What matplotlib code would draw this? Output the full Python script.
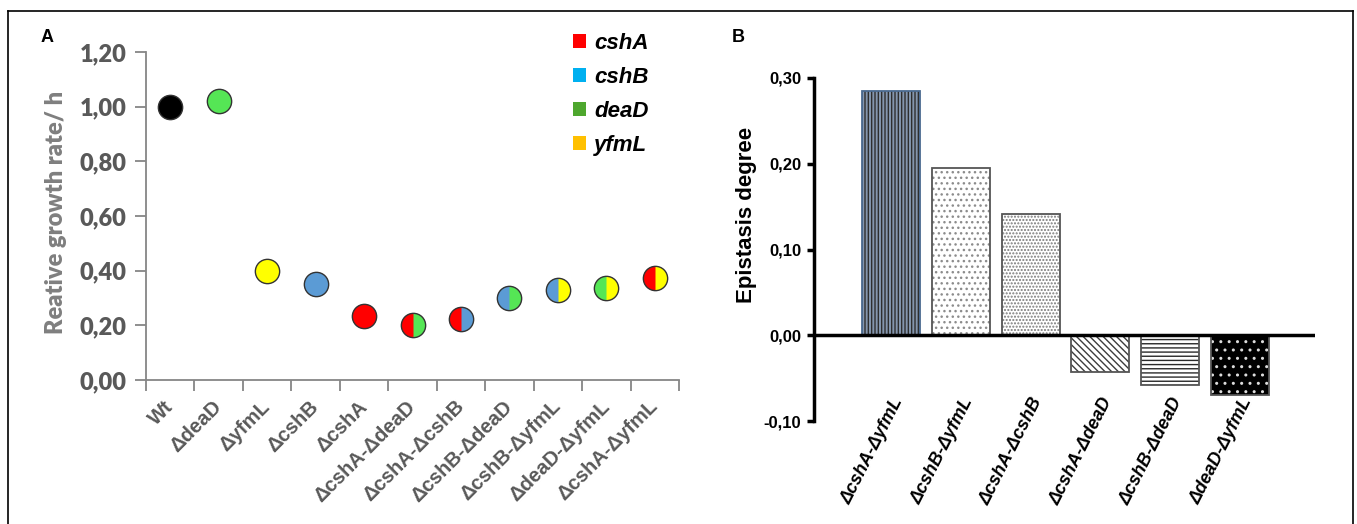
import matplotlib
matplotlib.use("Agg")
import matplotlib.pyplot as plt
import matplotlib.transforms as mtransforms
from matplotlib.patches import Patch
from matplotlib.lines import Line2D

# panel A data
strains = ['Wt', 'ΔdeaD', 'ΔyfmL', 'ΔcshB', 'ΔcshA', 'ΔcshA-ΔdeaD', 'ΔcshA-ΔcshB',
           'ΔcshB-ΔdeaD', 'ΔcshB-ΔyfmL', 'ΔdeaD-ΔyfmL', 'ΔcshA-ΔyfmL']
growth = [1.00, 1.02, 0.40, 0.35, 0.235, 0.20, 0.222, 0.30, 0.33, 0.335, 0.375]
left_col = ['black', 'green', 'yellow', 'blue', 'red', 'red', 'red', 'blue', 'blue', 'green', 'red']
right_col = ['black', 'green', 'yellow', 'blue', 'red', 'green', 'blue', 'green', 'yellow', 'yellow', 'yellow']
genes = ['cshA', 'cshB', 'deaD', 'yfmL']

# panel B data
pairs = ['ΔcshA-ΔyfmL', 'ΔcshB-ΔyfmL', 'ΔcshA-ΔcshB', 'ΔcshA-ΔdeaD', 'ΔcshB-ΔdeaD', 'ΔdeaD-ΔyfmL']
epistasis = [0.285, 0.195, 0.141, -0.043, -0.058, -0.070]

dot_colors = {'black': '#000000', 'green': '#55E655', 'yellow': '#FFFF00',
              'blue': '#5B9BD5', 'red': '#FF0000'}
legend_colors = ['#FF0000', '#00B0F0', '#4EA72E', '#FFC000']
gray = '#595959'

fig = plt.figure(figsize=(13.57, 5.24), dpi=100)

# outer frame
for xs, ys in [([8, 1353], [513, 513]), ([8, 8], [513, -5]), ([1353, 1353], [513, -5])]:
    fig.add_artist(Line2D([x / 1357 for x in xs], [y / 524 for y in ys],
                          color='black', lw=1.2, transform=fig.transFigure))

# ---- panel A ----
axA = fig.add_axes([146 / 1357, 1 - 380 / 524, (679 - 146) / 1357, (380 - 52) / 524])
x = list(range(len(strains)))
for i in x:
    # right colour full disc, left half on top, then the outline
    axA.plot(i, growth[i], 'o', ms=17.5, markerfacecolor=dot_colors[right_col[i]],
             markeredgewidth=0, clip_on=False, zorder=3)
    axA.plot(i, growth[i], 'o', ms=17.5, fillstyle='left',
             markerfacecolor=dot_colors[left_col[i]], markerfacecoloralt='none',
             markeredgewidth=0, clip_on=False, zorder=4)
    axA.plot(i, growth[i], 'o', ms=17.5, markerfacecolor='none',
             markeredgecolor='#333333', markeredgewidth=1.0, clip_on=False, zorder=5)
axA.set_xlim(-0.5, len(strains) - 0.5)
axA.set_ylim(0, 1.2)
axA.spines[['top', 'right']].set_visible(False)
for s in ['left', 'bottom']:
    axA.spines[s].set_color('#868686')
    axA.spines[s].set_linewidth(1.3)
yt = [0, 0.2, 0.4, 0.6, 0.8, 1.0, 1.2]
axA.set_yticks(yt)
axA.set_yticklabels([('%.2f' % v).replace('.', ',') for v in yt],
                    fontsize=17, fontweight='heavy', color=gray, family='Lato')
axA.tick_params(axis='y', length=8, width=1.3, color='#868686', pad=6)
axA.set_xticks([i - 0.5 for i in range(len(strains) + 1)])
axA.set_xticklabels([])
axA.tick_params(axis='x', which='major', length=8, width=1.3, color='#868686')
axA.set_xticks(x, minor=True)
axA.set_xticklabels(strains, minor=True, rotation=45, ha='right', va='center',
                    rotation_mode='anchor', fontsize=14.5, fontweight='bold', color=gray,
                    family='Liberation Sans')
axA.tick_params(axis='x', which='minor', length=0, pad=17)
axA.set_ylabel('Reative growth rate/ h', fontsize=17, fontweight='heavy', color='#7F7F7F',
               family='Lato')
axA.yaxis.set_label_coords((67 - 146) / 533, (380 - 212) / 328)

handles = [Patch(facecolor=c, edgecolor='none') for c in legend_colors]
fig.legend(handles, genes, loc='upper left', bbox_to_anchor=(553 / 1357, 1 - 13 / 524),
           frameon=False, handlelength=0.6, handleheight=0.6, handletextpad=0.35,
           labelspacing=0.58, prop={'family': 'Liberation Sans', 'weight': 'bold',
                                    'style': 'italic', 'size': 16})

fig.text(47 / 1357, 1 - 38 / 524, 'A', fontsize=13, fontweight='bold',
         family='Liberation Sans', ha='center', va='center')
fig.text(738 / 1357, 1 - 38 / 524, 'B', fontsize=13, fontweight='bold',
         family='Liberation Sans', ha='center', va='center')

# ---- panel B ----
axB = fig.add_axes([814 / 1357, 1 - 421 / 524, (1315 - 814) / 1357, (421 - 78) / 524])
xb = list(range(len(pairs)))
faces = ['#8496AE', 'white', 'white', 'white', 'white', 'black']
hatch_cols = ['#2E2E2E', '#8C8C8C', '#7A7A7A', '#3C3C3C', '#2A2A2A', '#DDDDDD']
hatches = ['|||||', '...', '.....', '\\\\\\\\\\', '----', '..']
outline = ['#4A6A90', '#555555', '#555555', '#555555', '#555555', '#555555']
for i in xb:
    axB.bar(xb[i], epistasis[i], width=0.83, color=faces[i], edgecolor=hatch_cols[i],
            hatch=hatches[i], linewidth=0, zorder=2)
    axB.bar(xb[i], epistasis[i], width=0.83, fill=False, edgecolor=outline[i],
            linewidth=1.3, zorder=3)
axB.set_xlim(-1.10, 6.07)
axB.set_ylim(-0.1, 0.3)
axB.axhline(0, color='black', lw=2.5, zorder=4)
axB.spines[['top', 'right', 'bottom']].set_visible(False)
axB.spines['left'].set_linewidth(2.5)
ybt = [-0.1, 0, 0.1, 0.2, 0.3]
axB.set_yticks(ybt)
axB.set_yticklabels([('%.2f' % v).replace('.', ',') for v in ybt],
                    fontsize=12, fontweight='bold', family='Liberation Sans')
axB.tick_params(axis='y', length=5, width=2.5, pad=4)
axB.set_xticks(xb)
axB.set_xticklabels(pairs, rotation=63, ha='right', va='center', rotation_mode='anchor',
                    fontsize=13, fontweight='bold', style='italic', family='Liberation Sans')
axB.tick_params(axis='x', length=0, pad=-16)
shift = mtransforms.ScaledTranslation(8 / 100, 0, fig.dpi_scale_trans)
for lab in axB.get_xticklabels():
    lab.set_transform(lab.get_transform() + shift)
axB.set_ylabel('Epistasis degree', fontsize=16, fontweight='bold', family='Liberation Sans')
axB.yaxis.set_label_coords((757 - 814) / 501, (421 - 215) / 343)

fig.savefig('out.png', dpi=100)
